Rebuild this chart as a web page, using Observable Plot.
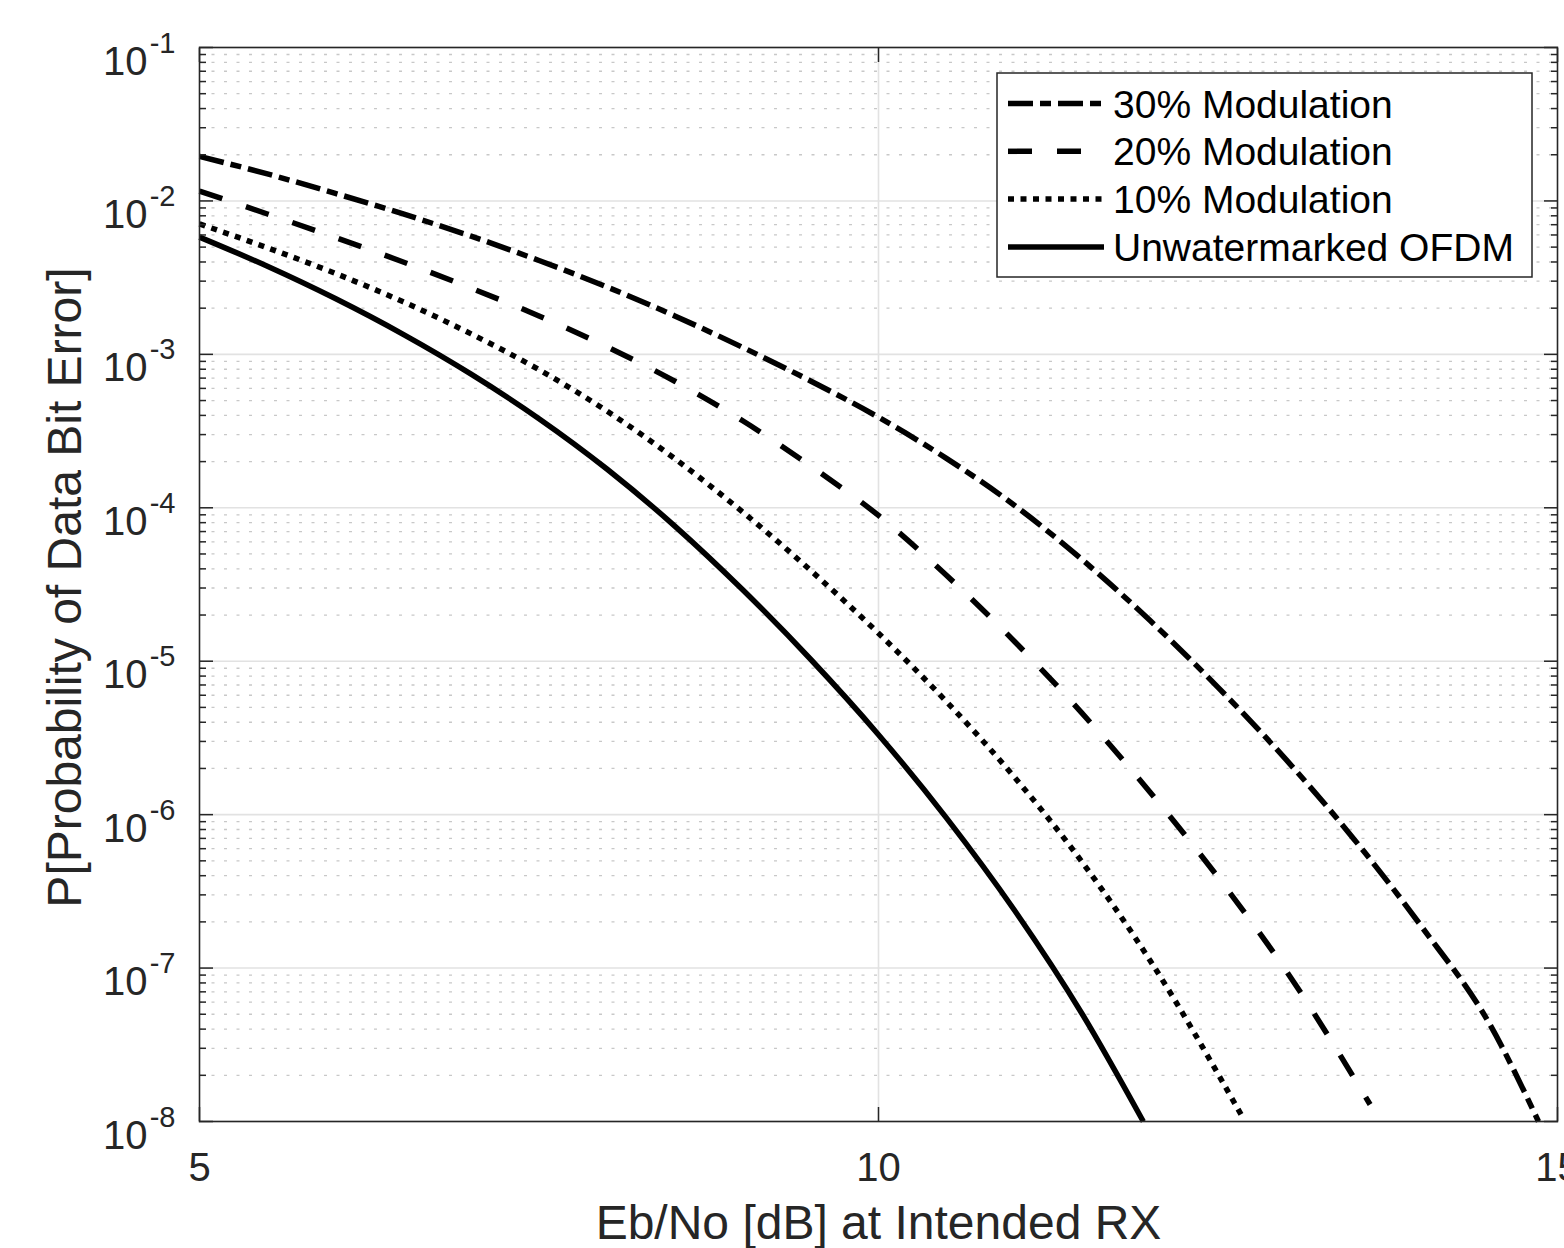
<!DOCTYPE html>
<html><head><meta charset="utf-8">
<script src="https://cdn.jsdelivr.net/npm/d3@7"></script>
<script src="https://cdn.jsdelivr.net/npm/@observablehq/plot@0.6"></script>
<style>
html,body{margin:0;padding:0;background:#fff;}
#chart{width:1564px;height:1248px;}
</style></head><body><div id="chart"></div>
<script>
// ---- Data (Eb/No in dB, probability of bit error) ----
const ebno30 = [5,5.5,6,6.5,7,7.5,8,8.5,9,9.5,10,10.5,11,11.5,12,12.5,13,13.5,14,14.5,14.86];
const ber30  = [1.95e-2,1.50e-2,1.12e-2,8.22e-3,5.89e-3,4.09e-3,2.75e-3,1.78e-3,1.11e-3,6.71e-4,3.89e-4,2.10e-4,1.04e-4,4.59e-5,1.84e-5,6.76e-6,2.29e-6,6.95e-7,1.86e-7,4.32e-8,1.0e-8];

const ebno20 = [5,5.5,6,6.5,7,7.5,8,8.5,9,9.5,10,10.5,11,11.5,12,12.5,13,13.62];
const ber20  = [1.16e-2,8.22e-3,5.78e-3,4.00e-3,2.70e-3,1.78e-3,1.12e-3,6.68e-4,3.69e-4,1.87e-4,8.91e-5,3.63e-5,1.35e-5,4.57e-6,1.40e-6,3.91e-7,9.66e-8,1.29e-8];

const ebno10 = [5,5.5,6,6.5,7,7.5,8,8.5,9,9.5,10,10.5,11,11.5,12,12.68];
const ber10  = [7.08e-3,4.95e-3,3.37e-3,2.20e-3,1.36e-3,7.94e-4,4.27e-4,2.09e-4,9.38e-5,3.91e-5,1.52e-5,5.46e-6,1.76e-6,4.90e-7,1.12e-7,1.07e-8];

const ebno0 = [5,5.5,6,6.5,7,7.5,8,8.5,9,9.5,10,10.5,11,11.5,11.95];
const ber0  = [5.81e-3,3.75e-3,2.31e-3,1.35e-3,7.43e-4,3.81e-4,1.79e-4,7.60e-5,2.92e-5,1.03e-5,3.32e-6,9.53e-7,2.39e-7,5.02e-8,1.0e-8];

const seriesNames = ["30% Modulation","20% Modulation","10% Modulation","Unwatermarked OFDM"];
const seriesX = [ebno30, ebno20, ebno10, ebno0];
const seriesY = [ber30, ber20, ber10, ber0];
const seriesDash = ["25,7,11,7", "24,25", "6,6.5", null];

// ---- Axis ticks ----
const xTicks = [5, 10, 15];
const yExponents = [-1,-2,-3,-4,-5,-6,-7,-8];
const minorMultipliers = [2,3,4,5,6,7,8,9];
</script>
<script>
const majorY = yExponents.map(e => Math.pow(10, e));
const minorY = [];
for (const e of yExponents.slice(1)) for (const m of minorMultipliers) minorY.push(m * Math.pow(10, e));

const font = "'Liberation Sans', Arial, Helvetica, sans-serif";
const ink = "#262626";

const marks = [
  Plot.ruleY(minorY, {stroke: "#c8c8c8", strokeWidth: 1.3, strokeDasharray: "3,9.5"}),
  Plot.ruleY(majorY, {stroke: "#e2e2e2", strokeWidth: 1.6}),
  Plot.ruleX([10], {stroke: "#e2e2e2", strokeWidth: 1.6}),
];
seriesNames.forEach((name, i) => {
  const rows = seriesX[i].map((x, j) => ({x, y: seriesY[i][j]}));
  marks.push(Plot.line(rows, {x: "x", y: "y", stroke: "black", strokeWidth: 5.5,
    strokeDasharray: seriesDash[i] || undefined, curve: "monotone-x", strokeLinecap: "butt"}));
});
marks.push(
  Plot.frame({stroke: ink, strokeWidth: 1.6}),
  Plot.axisY(majorY, {anchor: "left", tickSize: -14, tickFormat: () => "", label: null, stroke: ink, strokeWidth: 1.5}),
  Plot.axisY(minorY, {anchor: "left", tickSize: -7, tickFormat: () => "", label: null, stroke: ink, strokeWidth: 1.5}),
  Plot.axisY(majorY, {anchor: "right", tickSize: -14, tickFormat: () => "", label: null, stroke: ink, strokeWidth: 1.5}),
  Plot.axisY(minorY, {anchor: "right", tickSize: -7, tickFormat: () => "", label: null, stroke: ink, strokeWidth: 1.5}),
  Plot.axisX(xTicks, {anchor: "bottom", tickSize: -14, tickFormat: () => "", label: null, stroke: ink, strokeWidth: 1.5}),
  Plot.axisX(xTicks, {anchor: "top", tickSize: -14, tickFormat: () => "", label: null, stroke: ink, strokeWidth: 1.5}),
  // y tick labels: 10 with superscript exponent
  Plot.text(yExponents, {y: e => Math.pow(10, e), text: () => "10", frameAnchor: "left",
    textAnchor: "end", lineAnchor: "bottom", dx: -52, dy: 27, fontSize: 40, fill: ink, fontFamily: font}),
  Plot.text(yExponents, {y: e => Math.pow(10, e), text: e => String(e), frameAnchor: "left",
    textAnchor: "end", lineAnchor: "bottom", dx: -24, dy: 5, fontSize: 29, fill: ink, fontFamily: font}),
  // x tick labels
  Plot.text(xTicks, {x: d => d, text: d => String(d), frameAnchor: "bottom", textAnchor: "middle",
    lineAnchor: "bottom", dy: 59, fontSize: 40, fill: ink, fontFamily: font}),
  // axis titles
  Plot.text(["Eb/No [dB] at Intended RX"], {text: d => d, frameAnchor: "bottom", textAnchor: "middle",
    lineAnchor: "bottom", dy: 117, fontSize: 48, fill: ink, fontFamily: font}),
  Plot.text(["P[Probability of Data Bit Error]"], {text: d => d, frameAnchor: "left", rotate: -90,
    textAnchor: "middle", lineAnchor: "bottom", dx: -119, dy: 3, fontSize: 48, fill: ink, fontFamily: font})
);

const plot = Plot.plot({
  width: 1564, height: 1248,
  marginLeft: 199, marginRight: 7, marginTop: 47, marginBottom: 127,
  x: {type: "linear", domain: [5, 15], axis: null},
  y: {type: "log", domain: [1e-8, 1e-1], axis: null},
  style: {fontFamily: font, background: "white", overflow: "visible"},
  marks
});

// Legend (inside the plot area, top right)
const svg = d3.select(plot);
const lg = svg.append("g").attr("font-family", font).attr("text-anchor", "start");
lg.append("rect").attr("x", 997).attr("y", 73).attr("width", 535).attr("height", 204)
  .attr("fill", "white").attr("stroke", ink).attr("stroke-width", 1.5);
seriesNames.forEach((name, i) => {
  const cy = 103.5 + i * 47.8;
  const ln = lg.append("line").attr("x1", 1008).attr("x2", 1104).attr("y1", cy).attr("y2", cy)
    .attr("stroke", "black").attr("stroke-width", 5.5);
  if (seriesDash[i]) ln.attr("stroke-dasharray", seriesDash[i]);
  lg.append("text").attr("x", 1113).attr("y", cy + 14).attr("font-size", 39)
    .attr("text-anchor", "start").attr("fill", "black").text(name);
});

document.getElementById("chart").appendChild(plot);
</script>
</body></html>
